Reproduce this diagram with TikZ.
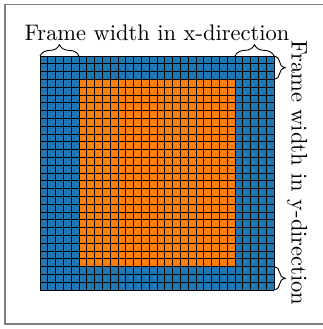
\documentclass[tikz,border=0pt]{standalone}
\usetikzlibrary{positioning, decorations.pathreplacing}

\definecolor{azulmoldura}{HTML}{1F77B4}
\definecolor{laranjanucleo}{HTML}{FF7F0E}

\begin{document}
\begin{tikzpicture}[
    x=3.467pt, y=3.467pt,
    moldura/.style={fill=azulmoldura},
    nucleo/.style={fill=laranjanucleo},
    grade/.style={draw=black, line width=0.4pt},
    chave/.style={decorate, decoration={brace, amplitude=5pt}, thin},
    rotulo/.style={inner sep=0pt, anchor=base},
    borda/.style={draw=gray, line width=0.6pt}
]
\useasboundingbox (-5.128,-5.0) rectangle (36.282,37.179);

% Borda externa
\draw[borda] (-4.487,-4.359) rectangle (36.5,36.6);

% Malha
\fill[moldura] (0,0) rectangle (30,30);
\fill[nucleo] (5,3) rectangle (25,27);
\foreach \i in {0,...,30} {
    \draw[grade] (\i,0) -- (\i,30);
    \draw[grade] (0,\i) -- (30,\i);
}

% Cantos da moldura
\coordinate (se) at (0,30);
\coordinate (se2) at (5,30);
\coordinate (sd2) at (25,30);
\coordinate (sd) at (30,30);
\coordinate (ds) at (30,27);
\coordinate (di) at (30,3);
\coordinate (id) at (30,0);

% Chaves
\draw[chave] (se) -- (se2);
\draw[chave] (sd2) -- (sd);
\draw[chave] (sd) -- (ds);
\draw[chave] (di) -- (id);

% Rotulos
\node[rotulo] (rotulox) at (15,32) {Frame width in x-direction};
\node[rotulo, rotate=-90] (rotuloy) at (32.27,15) {Frame width in y-direction};

\end{tikzpicture}
\end{document}
